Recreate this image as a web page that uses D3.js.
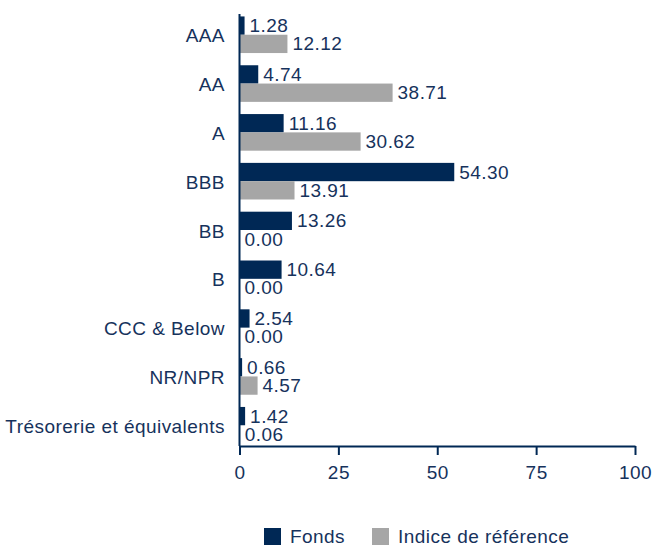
<!doctype html>
<html>
<head>
<meta charset="utf-8">
<style>
  body { margin: 0; background: #fff; }
  text { font-family: "Liberation Sans", Arial, sans-serif; }
</style>
</head>
<body>
  <svg id="chart"></svg>
<script src="https://d3js.org/d3.v7.min.js"></script>
<script>
  const categories = ["AAA", "AA", "A", "BBB", "BB", "B", "CCC & Below", "NR/NPR", "Trésorerie et équivalents"];
  const fonds = [1.28, 4.74, 11.16, 54.30, 13.26, 10.64, 2.54, 0.66, 1.42];
  const indice = [12.12, 38.71, 30.62, 13.91, 0.00, 0.00, 0.00, 4.57, 0.06];
  const seriesNames = ["Fonds", "Indice de référence"];
  const xTicks = [0, 25, 50, 75, 100];

  const width = 652, height = 547;
  const navy = "#002855", grey = "#a6a6a6", textColor = "#16325c";
  const fs = 19, ls = 0.45;
  const svg = d3.select("#chart").attr("width", width).attr("height", height);

  const x = d3.scaleLinear().domain([0, 100]).range([239.5, 635]);
  const y = d3.scaleBand().domain(categories).range([14, 446]).paddingInner(0.25).paddingOuter(0.05);
  const sub = d3.scaleBand().domain([0, 1]).range([0, y.bandwidth()]);

  const rows = categories.map((c, i) => ({ cat: c, vals: [fonds[i], indice[i]] }));
  const colors = [navy, grey];

  const g = svg.append("g");
  const row = g.selectAll("g.row").data(rows).enter().append("g")
    .attr("transform", d => `translate(0,${y(d.cat)})`);

  row.selectAll("rect").data(d => d.vals).enter().append("rect")
    .attr("x", x(0))
    .attr("y", (d, i) => sub(i))
    .attr("width", d => x(d) - x(0))
    .attr("height", sub.bandwidth())
    .attr("fill", (d, i) => colors[i]);

  row.selectAll("text.val").data(d => d.vals).enter().append("text")
    .attr("class", "val")
    .attr("x", d => x(d) + 5)
    .attr("y", (d, i) => sub(i) + sub.bandwidth() / 2 + 6.5)
    .attr("font-size", fs)
    .attr("letter-spacing", ls)
    .attr("fill", textColor)
    .text(d => d3.format(".2f")(d));

  // category labels
  g.selectAll("text.cat").data(categories).enter().append("text")
    .attr("class", "cat")
    .attr("x", 225)
    .attr("y", d => y(d) + y.bandwidth() / 2 + 7.5)
    .attr("text-anchor", "end")
    .attr("font-size", fs)
    .attr("letter-spacing", ls)
    .attr("fill", textColor)
    .text(d => d);

  // axes
  g.append("line").attr("x1", x(0)).attr("x2", x(0)).attr("y1", 14).attr("y2", 446)
    .attr("stroke", navy).attr("stroke-width", 2);
  const xAxis = g.append("g").attr("transform", "translate(0,446)")
    .call(d3.axisBottom(x).tickValues(xTicks).tickSize(9).tickPadding(11).tickSizeOuter(0));
  xAxis.select(".domain").attr("stroke", navy).attr("stroke-width", 2);
  xAxis.selectAll(".tick line").attr("stroke", navy).attr("stroke-width", 2);
  xAxis.selectAll(".tick text").attr("fill", textColor).attr("font-size", fs)
    .attr("letter-spacing", ls)
    .attr("font-family", "Liberation Sans, Arial, sans-serif");

  // legend
  const legendX = [264, 372];
  const legend = svg.append("g");
  seriesNames.forEach((name, i) => {
    legend.append("rect").attr("x", legendX[i]).attr("y", 528).attr("width", 17).attr("height", 17)
      .attr("fill", colors[i]);
    legend.append("text").attr("x", legendX[i] + 26).attr("y", 543)
      .attr("font-size", fs).attr("letter-spacing", ls).attr("fill", textColor).text(name);
  });
</script>
</body>
</html>
